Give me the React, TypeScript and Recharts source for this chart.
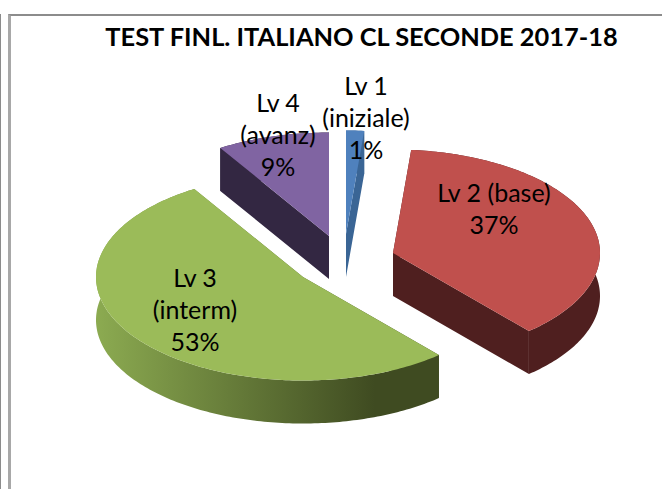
import React from 'react';
import { PieChart, Pie } from 'recharts';

const categories = ['Lv 1|(iniziale)', 'Lv 2 (base)', 'Lv 3|(interm)', 'Lv 4|(avanz)'];
const shares = [1.4, 37.2, 52.6, 8.8];

const topColors = ['#4f81bd', '#c0504d', '#9bbb59', '#8064a2'];
const wallColors = ['#3a6595', '#4f1f1f', 'url(#greenWall)', '#332742'];

// pie centre is cx/cy below, each slice gets pulled out from it
const PIE_CX = 335;
const PIE_CY = 250;
const RADIUS = 207;
const SQUASH = 0.5;
const DEPTH = 43;
const explode = [
  [11, -16],
  [58, 3],
  [-32, 27],
  [-6, -14],
];
const labelSpots = [
  { x: 366, y: 95 },
  { x: 494, y: 202 },
  { x: 195, y: 287 },
  { x: 278, y: 112 },
];

const data = categories.map((name, i) => ({ name, value: shares[i] }));

const pt = (x: number, y: number, deg: number) => {
  const r = (deg * Math.PI) / 180;
  return [x + RADIUS * Math.cos(r), y - RADIUS * SQUASH * Math.sin(r)];
};

const Slice3D = (props: any) => {
  const { index, startAngle, endAngle, cx, cy } = props;
  const x = cx + explode[index][0];
  const y = cy + explode[index][1];
  const hi = Math.max(startAngle, endAngle);
  const lo = Math.min(startAngle, endAngle);
  const steps = Math.max(4, Math.ceil(hi - lo));
  const arc: number[][] = [];
  for (let i = 0; i <= steps; i++) arc.push(pt(x, y, hi - ((hi - lo) * i) / steps));

  const top = `M${x},${y} L${arc.map((p) => p.join(',')).join(' L')} Z`;
  const s = arc[0];
  const e = arc[arc.length - 1];
  const band = `M${arc.map((p) => p.join(',')).join(' L')} L${arc
    .slice()
    .reverse()
    .map((p) => `${p[0]},${p[1] + DEPTH}`)
    .join(' L')} Z`;
  const faces = `M${x},${y} L${s[0]},${s[1]} L${s[0]},${s[1] + DEPTH} L${x},${y + DEPTH} Z M${x},${y} L${e[0]},${e[1]} L${e[0]},${e[1] + DEPTH} L${x},${y + DEPTH} Z`;
  const wall = wallColors[index];

  return (
    <g>
      <path d={band} fill={wall} />
      <path d={faces} fill={wall} />
      <path d={top} fill={topColors[index]} />
    </g>
  );
};

const SliceLabel = (props: any) => {
  const spot = labelSpots[props.index];
  const lines = [...String(props.name).split('|'), `${Math.round(props.percent * 100)}%`];
  return (
    <text x={spot.x} y={spot.y} textAnchor="middle" fontFamily="Lato" fontSize={25} fill="#000">
      {lines.map((l, i) => (
        <tspan key={i} x={spot.x} dy={i === 0 ? 0 : 32}>
          {l}
        </tspan>
      ))}
    </text>
  );
};

export default function App() {
  return (
    <div style={{ position: 'absolute', left: 0, top: 0, width: 662, height: 489, overflow: 'hidden', background: '#fff' }}>
      <div style={{ position: 'absolute', left: 0, top: 14, width: 0, height: 480, borderLeft: '1px solid #8c8c8c' }} />
      <div style={{ position: 'absolute', left: 8, top: 14, width: 670, height: 490, borderTop: '2px solid #8c8c8c', borderLeft: '3px solid #a8a8a8' }} />
      <PieChart width={662} height={489} margin={{ top: 0, right: 0, bottom: 0, left: 0 }} style={{ position: 'absolute', left: 0, top: 0 }}>
        <defs>
          <linearGradient id="greenWall" gradientUnits="userSpaceOnUse" x1="95" y1="0" x2="375" y2="0">
            <stop offset="0" stopColor="#8cab51" />
            <stop offset="1" stopColor="#3f4b21" />
          </linearGradient>
        </defs>
        <text x={361.5} y={46} textAnchor="middle" fontFamily="Lato" fontWeight={700} fontSize={25.4} fill="#000">
          TEST FINL. ITALIANO CL SECONDE 2017-18
        </text>
        <Pie
          data={data}
          dataKey="value"
          cx={PIE_CX}
          cy={PIE_CY}
          outerRadius={RADIUS}
          startAngle={90}
          endAngle={-270}
          stroke="none"
          shape={Slice3D}
          label={SliceLabel}
          labelLine={false}
          isAnimationActive={false}
        />
      </PieChart>
    </div>
  );
}
